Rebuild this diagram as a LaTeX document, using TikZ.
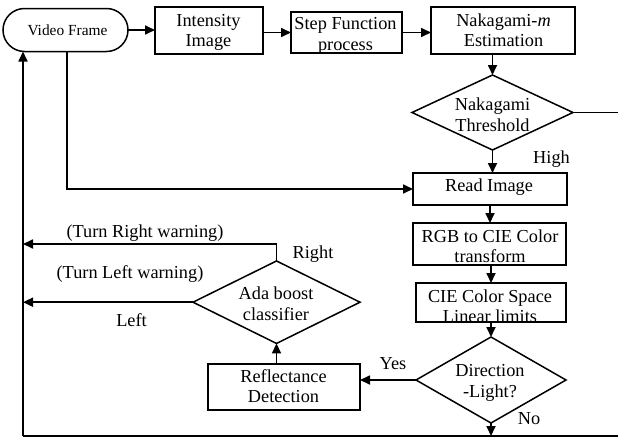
\documentclass[tikz,border=0pt]{standalone}
\usepackage{fontspec}
\setmainfont{Liberation Serif}
\usetikzlibrary{arrows.meta,shapes.geometric,shapes.misc}

\tikzset{
  shapebase/.style={draw, line width=1.5pt, inner sep=0pt, outer sep=0pt},
  procbox/.style={shapebase, rectangle},
  decision/.style={shapebase, diamond},
  terminal/.style={shapebase, rounded rectangle},
  txt/.style={inner sep=0pt, align=center, font=\fontsize{18.3}{20.5}\selectfont},
  smalltxt/.style={inner sep=0pt, align=center, font=\fontsize{15.4}{17}\selectfont},
  conn/.style={line width=1.7pt},
  arr/.style={conn, -{Triangle[length=10pt,width=9pt]}}
}

\begin{document}
\begin{tikzpicture}[x=1pt, y=-1pt]
  \fill[white] (0,0) rectangle (618,439);
  \useasboundingbox (0,0) rectangle (618,439);

  % process shapes
  \node[terminal, minimum width=125pt, minimum height=43pt] (vf) at (65.5,30) {};
  \node[procbox, minimum width=108pt, minimum height=47pt] (ii) at (209,30.5) {};
  \node[procbox, minimum width=111pt, minimum height=41pt] (sf) at (346.5,32.5) {};
  \node[procbox, minimum width=144pt, minimum height=47pt] (nm) at (503,30.5) {};
  \node[decision, minimum width=161pt, minimum height=75pt] (nt) at (492.5,112.5) {};
  \node[procbox, minimum width=154pt, minimum height=32pt] (ri) at (490,189) {};
  \node[procbox, minimum width=153pt, minimum height=42pt] (rgb) at (489.5,244) {};
  \node[procbox, minimum width=150pt, minimum height=39pt] (cie) at (491,302.5) {};
  \node[decision, minimum width=150pt, minimum height=86pt] (dl) at (491,380) {};
  \node[procbox, minimum width=152pt, minimum height=46pt] (rd) at (284,387) {};
  \node[decision, minimum width=167pt, minimum height=82.5pt] (ab) at (276.5,302.2) {};

  % texts of the shapes
  \node[smalltxt] (tvf) at (67.5,30) {Video Frame};
  \node[txt] (tii) at (208.5,32.5) {Intensity\\Image};
  \node[txt] (tsf) at (345.5,36) {Step Function\\process};
  \node[txt] (tnm) at (503.5,30) {Nakagami-\textit{m}\\Estimation};
  \node[txt] (tnt) at (492.5,114.5) {Nakagami\\Threshold};
  \node[txt] (tri) at (489,187.5) {Read Image};
  \node[txt] (trgb) at (490,246) {RGB to CIE Color\\transform};
  \node[txt] (tcie) at (490,306) {CIE Color Space\\Linear limits};
  \node[txt] (tdl) at (490,383) {Direction\\-Light?};
  \node[txt] (trd) at (283.5,386) {Reflectance\\Detection};
  \node[txt] (tab) at (276,303.5) {Ada boost\\classifier};

  % connector labels
  \node[txt] (lhigh) at (551.5,158.8) {High};
  \node[txt] (lno) at (529,419) {No};
  \node[txt] (lyes) at (393,364) {Yes};
  \node[txt] (lright) at (313,254) {Right};
  \node[txt] (lleft) at (131.5,320.5) {Left};
  \node[txt] (lturnr) at (145,233.3) {(Turn Right warning)};
  \node[txt] (lturnl) at (130,274) {(Turn Left warning)};

  % routing points
  \coordinate (tap) at (67,0);
  \coordinate (bl) at (23,436);
  \coordinate (br) at (618,436);
  \coordinate (ntout) at (618,112.5);
  \coordinate (rtip) at (23,244);

  % top row
  \draw[arr] (vf.east) -- (vf.east -| ii.west);
  \draw[arr] (ii.east |- sf.west) -- (sf.west);
  \draw[arr] (sf.east) -- (sf.east -| nm.west);
  \draw[arr] (nt.north |- nm.south) -- (nt.north);
  \draw[conn] (nt.east) -- (ntout);
  \draw[arr] (nt.south) -- (nt.south |- ri.north);

  % frame to read image
  \draw[arr] (vf.south -| tap) |- (ri.west);

  % colour chain
  \draw[arr] (ri.south) -- (ri.south |- rgb.north);
  \draw[arr] (rgb.south -| cie.north) -- (cie.north);
  \draw[arr] (cie.south) -- (dl.north);
  \draw[arr] (dl.south) -- (dl.south |- bl);

  % return loop
  \draw[conn] (br) -- (bl);
  \draw[arr] (bl) -- (bl |- vf.south);

  % reflectance and classifier
  \draw[arr] (dl.west) -- (dl.west -| rd.east);
  \draw[arr] (ab.south |- rd.north) -- (ab.south);
  \draw[arr] (ab.north) |- (rtip);
  \draw[arr] (ab.west) -- (ab.west -| bl);
\end{tikzpicture}
\end{document}
